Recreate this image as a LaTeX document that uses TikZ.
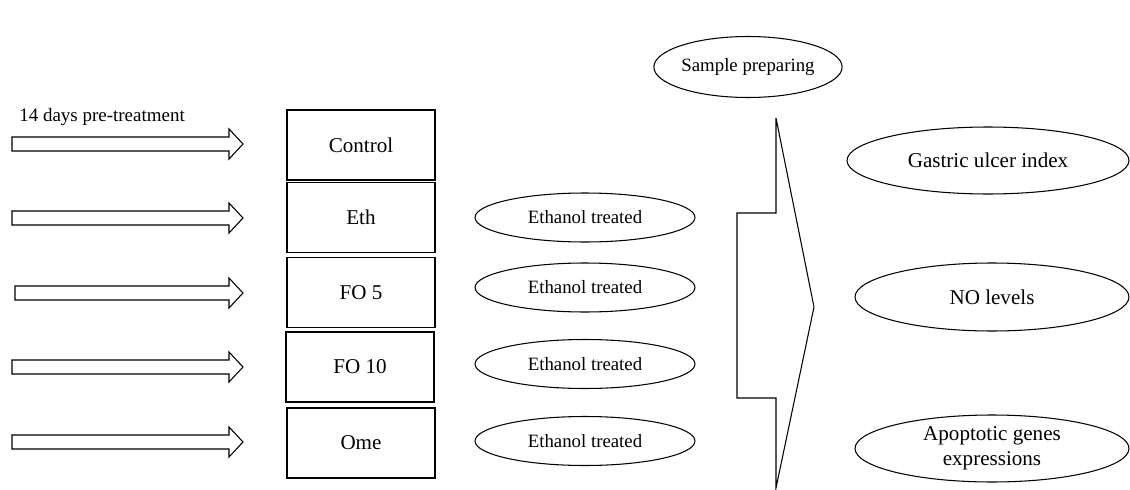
\documentclass[tikz,border=0pt]{standalone}
\usepackage{fontspec}
\setmainfont{Liberation Serif}
\usepackage{tikz}
\usetikzlibrary{shapes.geometric}
\tikzset{
	group/.style={
			draw, line width=0.7pt, minimum width=2.96cm, minimum height=1.4cm,
			inner sep=0pt, font=\fontsize{12}{14}\selectfont
		},
	oval/.style={
			draw, ellipse, line width=0.6pt, inner sep=0pt, align=center
		},
	blockarrow/.style={
			draw, line width=0.6pt, fill=white
		}
}

\begin{document}
\begin{tikzpicture}[x=0.02cm, y=-0.02cm]

			\useasboundingbox (0,0) rectangle (1130,490);

			% Define the groups
			\node[group] (control) at (361,145) {Control};
			\node[group] (eth) at (361,217.5) {Eth};
			\node[group] (fofive) at (361,292.5) {FO 5};
			\node[group] (foten) at (360,367) {FO 10};
			\node[group] (ome) at (361,443) {Ome};

			% Add the pre-treatment arrows
			\node[anchor=base west, inner sep=0pt, font=\fontsize{10.8}{13}\selectfont] (pretreat) at (19,121) {14 days pre-treatment};
			\foreach \y/\xs in {144/12, 218/12, 293/15, 367/12, 442/12}
				\draw[blockarrow] (\xs,\y-7) -- (229,\y-7) -- (229,\y-15) -- (243,\y) -- (229,\y+15) -- (229,\y+7) -- (\xs,\y+7) -- cycle;

			% Add the ethanol ovals
			\foreach \y/\n in {217.5/etha, 287.5/ethb, 364/ethc, 441/ethd}
				\node[oval, minimum width=4.4cm, minimum height=0.98cm, font=\fontsize{10.7}{13}\selectfont] (\n) at (585,\y) {Ethanol treated};

			% Sample preparing and the big arrow
			\node[oval, minimum width=3.4cm, minimum height=1.22cm, font=\fontsize{10.7}{13}\selectfont] (sample) at (748,67) {Sample preparing};
			\draw[line width=0.6pt] (776,118) -- (814,307) -- (776,488) -- (776,398) -- (737,398) -- (737,213) -- (776,213) -- cycle;

			% Define the outcomes
			\node[oval, minimum width=5.64cm, minimum height=1.34cm, font=\fontsize{12}{14}\selectfont] (ulcer) at (988,160.5) {Gastric ulcer index};
			\node[oval, minimum width=5.48cm, minimum height=1.36cm, font=\fontsize{12}{14}\selectfont] (nolevel) at (992,297) {NO levels};
			\node[oval, minimum width=5.48cm, minimum height=1.34cm, font=\fontsize{12}{14}\selectfont] (apopt) at (992,448.5) {Apoptotic genes\\expressions};

		\end{tikzpicture}
\end{document}
